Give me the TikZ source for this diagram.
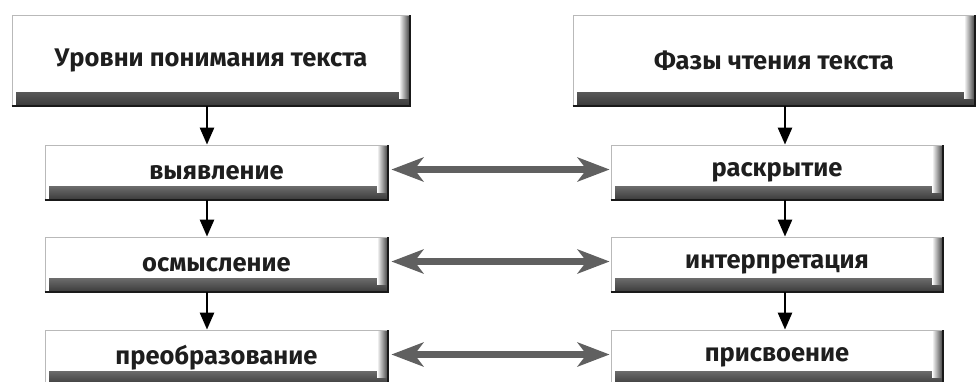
\documentclass[tikz,border=0pt]{standalone}
\usepackage{fontspec}
\setmainfont{Fira Sans}
\usetikzlibrary{arrows.meta}
\definecolor{txt}{HTML}{1E1E1E}
\definecolor{harrow}{HTML}{606060}
\definecolor{shadedark}{HTML}{3A3A3A}
\tikzset{
  box/.style={draw=gray!55, line width=0.8pt, fill=white, inner sep=0pt,
    font=\fontsize{25.5}{28}\selectfont\bfseries, text=txt,
    path picture={
      \shade[top color=white, bottom color=shadedark]
        ([shift={(4pt,14pt)}]path picture bounding box.south west) rectangle (path picture bounding box.south east);
      \shade[left color=white, right color=shadedark]
        ([xshift=-11pt]path picture bounding box.north east) rectangle ([yshift=8pt]path picture bounding box.south east);
    }},
  bigbox/.style={box, minimum height=91pt},
  smallbox/.style={box, minimum height=55pt},
  edge/.style={line width=2pt, black!90},
  varrow/.style={line width=2.6pt, black, -{Triangle[length=17pt,width=14pt]}},
  harr/.style={line width=7pt, harrow, {Stealth[length=32pt,width=24pt,inset=9pt]}-{Stealth[length=32pt,width=24pt,inset=9pt]}, shorten <=3pt, shorten >=1pt}
}
\begin{document}
\begin{tikzpicture}[x=1pt,y=-1pt]
\useasboundingbox (0,0) rectangle (977,381);
\node[bigbox, minimum width=398pt] (TL) at (211,60.5) {Уровни понимания текста};
\node[bigbox, minimum width=402pt] (TR) at (774,60.5) {Фазы чтения текста};
\node[smallbox, minimum width=343pt] (l1) at (216.5,172.5) {выявление};
\node[smallbox, minimum width=343pt] (l2) at (216.5,264.5) {осмысление};
\node[smallbox, minimum width=343pt] (l3) at (216.5,357.5) {преобразование};
\node[smallbox, minimum width=332pt] (r1) at (777,172.5) {раскрытие};
\node[smallbox, minimum width=332pt] (r2) at (777,264.5) {интерпретация};
\node[smallbox, minimum width=332pt] (r3) at (777,357.5) {присвоение};
\foreach \n in {TL,TR,l1,l2,l3,r1,r2,r3}{
  \draw[edge] (\n.south west) -- (\n.south east) -- (\n.north east);
}
\coordinate (colL) at (207,0);
\coordinate (colR) at (785,0);
\draw[varrow] (TL.south -| colL) -- (l1.north -| colL);
\draw[varrow] (l1.south -| colL) -- (l2.north -| colL);
\draw[varrow] (l2.south -| colL) -- (l3.north -| colL);
\draw[varrow] (TR.south -| colR) -- (r1.north -| colR);
\draw[varrow] (r1.south -| colR) -- (r2.north -| colR);
\draw[varrow] (r2.south -| colR) -- (r3.north -| colR);
\draw[harr] ([yshift=3pt]l1.east) -- ([yshift=3pt]r1.west);
\draw[harr] ([yshift=3pt]l2.east) -- ([yshift=3pt]r2.west);
\draw[harr] ([yshift=3pt]l3.east) -- ([yshift=3pt]r3.west);
\end{tikzpicture}
\end{document}
